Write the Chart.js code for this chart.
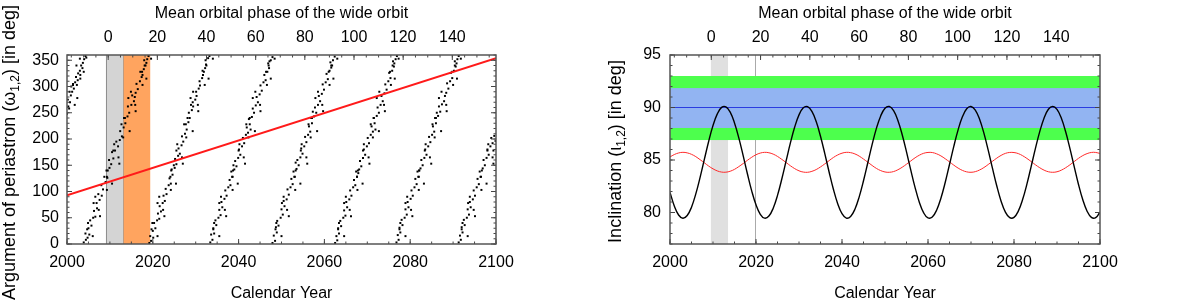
<!DOCTYPE html>
<html>
<head>
<meta charset="utf-8">
<script src="https://cdn.jsdelivr.net/npm/chart.js@4/dist/chart.umd.min.js"></script>
<style>
  html, body { margin: 0; padding: 0; background: #fff; }
  #wrap { position: relative; width: 1200px; height: 303px; }
  canvas { position: absolute; top: 0; }
  #omega { left: 0; }
  #incl { left: 600px; }
</style>
</head>
<body>
<div id="wrap">
  <canvas id="omega" width="600" height="303"></canvas>
  <canvas id="incl" width="600" height="303"></canvas>
</div>
<script>
// top axis: mean orbital phase of the wide orbit vs calendar year
const PHASE_ZERO_YEAR = 2009.6;
const YEARS_PER_PHASE = 0.573;
const toPhase = y => (y - PHASE_ZERO_YEAR) / YEARS_PER_PHASE;

const yearTicks = [2000, 2020, 2040, 2060, 2080, 2100];
const phaseTicks = [0, 20, 40, 60, 80, 100, 120, 140];
const omegaTicks = [0, 50, 100, 150, 200, 250, 300, 350];
const inclTicks = [80, 85, 90, 95];

// left panel: argument of periastron, scattered points [year, deg]
const omegaBand0 = [[2000.0,248],[2000.5,258],[2000.3,262],[2000.7,270],[2000.2,275],[2000.9,283],[2001.2,290],[2001.6,296],[2001.0,300],
  [2002.3,303],[2001.4,305],[2001.9,308],[2002.5,312],[2002.1,318],[2003.1,322],[2002.6,325],[2003.0,330],[2003.6,335],[2003.3,340],
  [2003.7,345],[2004.0,352],[2004.5,355],[2004.3,358]];
const omegaBand1 = [[2003.9,3],[2004.4,8],[2004.8,12],[2005.2,18],[2004.3,20],[2005.0,30],[2005.7,35],[2005.4,45],[2006.1,50],[2006.6,52],
  [2006.3,63],[2007.0,68],[2006.9,78],[2007.6,84],[2008.1,92],[2007.3,95],[2008.4,104],[2008.0,112],[2009.0,118],[2009.4,126],[2008.7,128],
  [2009.2,140],[2009.9,145],[2010.3,152],[2009.8,160],[2010.8,163],[2010.5,175],[2011.2,178],[2011.9,186],[2011.5,195],[2012.3,198],
  [2012.8,205],[2012.4,215],[2013.2,222],[2013.6,230],[2013.3,240],[2014.1,243],[2014.5,250],[2014.2,262],[2015.0,265],[2015.6,272],
  [2015.8,280],[2015.2,283],[2016.0,288],[2016.5,295],[2016.2,305],[2017.0,310],[2017.4,318],[2017.6,322],[2017.1,328],[2017.9,333],
  [2018.3,340],[2018.5,345],[2018.0,350],[2018.7,352],[2019.0,358]];
const omegaBand2 = [[2019.2,2],[2019.6,6],[2020.1,12],[2019.4,15],[2020.0,25],[2020.6,30],[2020.3,40],[2021.0,45],[2021.5,48],[2021.2,58],
  [2021.9,62],[2021.6,72],[2022.3,78],[2022.8,82],[2022.5,92],[2023.2,95],[2023.0,105],[2023.7,112],[2024.2,115],[2023.9,125],[2024.6,132],
  [2024.4,142],[2025.1,145],[2024.9,150],[2025.5,152],[2025.2,162],[2025.9,168],[2026.3,172],[2026.0,182],[2026.7,188],[2027.1,195],
  [2026.8,205],[2027.5,210],[2027.9,218],[2027.7,228],[2028.3,232],[2028.6,240],[2028.4,250],[2029.1,255],[2029.4,262],[2028.9,265],
  [2029.3,270],[2029.9,275],[2030.2,282],[2030.1,290],[2030.7,296],[2031.0,302],[2030.9,310],[2031.5,316],[2031.7,322],[2031.6,330],
  [2032.2,335],[2032.4,342],[2032.3,350],[2032.9,354],[2033.2,358]];
const omegaBand3 = [[2033.4,3],[2033.9,8],[2033.6,18],[2034.3,20],[2034.1,30],[2034.8,36],[2034.6,45],[2035.3,50],[2035.8,55],[2035.5,65],
  [2036.2,70],[2036.0,80],[2036.7,86],[2037.2,92],[2036.9,102],[2037.6,108],[2038.1,112],[2037.9,122],[2038.5,128],[2038.3,138],
  [2039.0,142],[2039.5,148],[2038.8,150],[2039.2,158],[2039.9,164],[2040.4,170],[2040.1,180],[2040.8,186],[2041.3,192],[2041.0,202],
  [2041.7,208],[2042.2,212],[2042.8,218],[2041.9,222],[2042.6,228],[2042.4,238],[2043.1,242],[2043.6,250],[2043.3,258],[2044.0,264],
  [2044.5,270],[2044.2,280],[2044.9,285],[2045.4,292],[2045.1,302],[2045.8,308],[2046.3,312],[2046.0,322],[2046.7,328],[2047.1,335],
  [2046.9,344],[2047.2,348],[2047.5,350],[2047.9,356]];
const omegaBand4 = [[2047.9,2],[2048.5,6],[2048.2,16],[2048.9,22],[2048.7,32],[2049.3,35],[2049.0,44],[2049.8,50],[2050.3,56],[2050.0,66],
  [2050.7,72],[2050.5,82],[2051.2,85],[2051.7,94],[2051.4,104],[2052.1,108],[2052.6,114],[2052.3,124],[2053.0,128],[2052.8,138],
  [2053.5,143],[2054.0,150],[2053.3,155],[2053.7,160],[2054.4,165],[2054.9,172],[2054.6,182],[2055.3,186],[2055.8,194],[2055.5,204],
  [2056.2,208],[2056.7,214],[2056.4,224],[2057.1,230],[2056.9,240],[2057.6,243],[2058.1,250],[2057.3,252],[2057.8,260],[2058.5,265],
  [2059.0,272],[2058.7,282],[2059.4,286],[2059.9,294],[2059.6,304],[2060.3,308],[2060.8,314],[2060.5,324],[2061.2,330],[2061.6,336],
  [2061.8,340],[2061.4,346],[2062.0,350],[2062.4,357]];
const omegaBand5 = [[2062.5,2],[2063.0,7],[2062.8,15],[2063.4,20],[2063.2,30],[2063.9,34],[2063.7,44],[2064.4,50],[2064.9,54],[2064.6,64],
  [2065.3,70],[2065.1,80],[2065.8,85],[2066.3,92],[2066.0,102],[2066.7,108],[2067.2,112],[2066.9,122],[2067.6,128],[2067.9,135],
  [2067.4,138],[2068.1,142],[2068.6,148],[2068.3,158],[2069.0,164],[2069.5,170],[2069.2,180],[2069.9,186],[2070.4,192],[2070.1,202],
  [2070.8,208],[2071.3,214],[2071.9,218],[2071.0,224],[2071.7,230],[2071.5,240],[2072.2,244],[2072.7,250],[2072.4,260],[2073.1,265],
  [2073.6,272],[2073.3,282],[2074.0,287],[2074.5,294],[2074.2,304],[2074.9,310],[2075.4,316],[2075.1,326],[2075.8,330],[2076.2,338],
  [2076.3,344],[2076.0,348],[2076.6,352],[2076.9,358]];
const omegaBand6 = [[2076.8,3],[2077.3,8],[2077.1,17],[2077.7,22],[2077.5,31],[2078.2,36],[2078.0,46],[2078.7,50],[2079.2,56],[2078.9,66],
  [2079.6,70],[2079.4,80],[2080.1,86],[2080.6,92],[2080.3,102],[2081.0,108],[2081.5,114],[2081.2,124],[2081.9,128],[2081.7,138],
  [2082.1,140],[2082.4,144],[2082.9,150],[2082.6,160],[2083.3,164],[2083.8,170],[2083.5,180],[2084.2,186],[2084.7,194],[2084.4,204],
  [2085.1,208],[2085.6,214],[2085.3,224],[2086.0,230],[2085.8,240],[2086.5,244],[2086.2,250],[2087.0,252],[2086.7,262],[2087.4,266],
  [2087.9,272],[2088.1,282],[2088.4,288],[2088.9,296],[2088.6,306],[2089.3,310],[2089.8,316],[2089.5,326],[2090.2,330],[2090.6,338],
  [2090.8,344],[2090.4,348],[2091.0,352],[2091.3,358]];
const omegaBand7 = [[2091.3,3],[2091.8,8],[2091.6,16],[2092.2,22],[2092.0,32],[2092.7,36],[2092.5,46],[2093.2,50],[2093.7,56],[2093.4,66],
  [2094.1,70],[2093.9,80],[2094.6,85],[2095.1,92],[2094.8,102],[2095.5,108],[2096.0,114],[2095.7,124],[2096.4,128],[2096.2,138],
  [2096.9,144],[2097.4,150],[2097.1,160],[2097.8,164],[2098.3,170],[2099.4,178],[2098.0,180],[2098.7,186],[2099.2,192],[2099.9,196],
  [2098.9,202],[2099.6,206]];
// looser points on either side of each band
const omegaSpread = [
  [2001.8,265],[2000.6,290],[2003.1,315],[2002.2,340],[2002.4,278],[2001.4,303],[2003.9,328],[2003.0,353],
  [2006.0,15],[2004.9,40],[2007.4,65],[2006.6,90],[2010.5,115],[2009.5,140],[2012.0,165],[2011.0,190],[2014.6,215],[2013.5,240],
  [2015.9,265],[2014.9,290],[2018.5,315],[2018.1,340],[2004.7,28],[2007.7,53],[2006.2,78],[2009.3,103],[2009.3,128],[2012.2,153],
  [2010.8,178],[2013.1,203],[2012.7,228],[2016.0,253],[2014.3,278],[2017.6,303],[2017.5,328],[2019.6,353],
  [2021.1,15],[2019.9,40],[2022.4,65],[2021.5,90],[2025.4,115],[2024.3,140],[2026.8,165],[2025.7,190],[2029.3,215],[2028.1,240],
  [2030.5,265],[2029.4,290],[2033.0,315],[2032.5,340],[2019.7,28],[2022.7,53],[2021.1,78],[2024.2,103],[2024.1,128],[2027.0,153],
  [2025.5,178],[2027.8,203],[2027.3,228],[2030.6,253],[2028.8,278],[2032.1,303],[2031.9,328],[2034.0,353],
  [2035.5,15],[2034.3,40],[2036.8,65],[2035.9,90],[2039.8,115],[2038.7,140],[2041.2,165],[2040.2,190],[2043.8,215],[2042.6,240],
  [2045.0,265],[2043.9,290],[2047.5,315],[2047.0,340],[2034.1,28],[2037.1,53],[2035.5,78],[2038.6,103],[2038.6,128],[2041.5,153],
  [2040.0,178],[2042.3,203],[2041.8,228],[2045.1,253],[2043.3,278],[2046.6,303],[2046.4,328],[2048.4,353],
  [2050.0,15],[2048.8,40],[2051.3,65],[2050.5,90],[2054.4,115],[2053.3,140],[2055.8,165],[2054.7,190],[2058.3,215],[2057.1,240],
  [2059.5,265],[2058.5,290],[2062.1,315],[2061.6,340],[2048.6,28],[2051.7,53],[2050.1,78],[2053.2,103],[2053.1,128],[2056.0,153],
  [2054.5,178],[2056.8,203],[2056.3,228],[2059.7,253],[2057.9,278],[2061.2,303],[2061.0,328],[2063.0,353],
  [2064.6,15],[2063.4,40],[2065.9,65],[2065.0,90],[2068.9,115],[2067.8,140],[2070.3,165],[2069.2,190],[2072.7,215],[2071.5,240],
  [2073.9,265],[2072.8,290],[2076.4,315],[2075.9,340],[2063.2,28],[2066.2,53],[2064.6,78],[2067.7,103],[2067.6,128],[2070.5,153],
  [2069.0,178],[2071.3,203],[2070.8,228],[2074.1,253],[2072.2,278],[2075.5,303],[2075.3,328],[2077.3,353],
  [2078.9,15],[2077.7,40],[2080.2,65],[2079.3,90],[2083.2,115],[2082.1,140],[2084.6,165],[2083.6,190],[2087.2,215],[2086.0,240],
  [2088.4,265],[2087.3,290],[2090.9,315],[2090.4,340],[2077.5,28],[2080.5,53],[2078.9,78],[2082.0,103],[2082.0,128],[2084.9,153],
  [2083.4,178],[2085.7,203],[2085.2,228],[2088.5,253],[2086.7,278],[2090.0,303],[2089.8,328],[2091.8,353],
  [2093.4,15],[2092.2,40],[2094.8,65],[2093.9,90],[2097.8,115],[2096.7,140],[2099.2,165],[2098.2,190],
  [2092.0,28],[2095.1,53],[2093.5,78],[2096.6,103],[2096.5,128],[2099.4,153],[2098.0,178]
];

// red straight line (apsidal trend)
const apsidalYears = [2000, 2100];
const apsidalValues = [93, 354];

// shaded year windows, left panel
const grayWindowLeft = [2009.2, 2013.2];
const orangeWindow = [2013.2, 2019.4];

// right panel: inclination, one sample per year 2000..2100
const sampleYears = Array.from({ length: 101 }, (_, i) => 2000 + i);
const inclBlack = [81.92,80.62,79.76,79.45,79.71,80.51,81.77,83.35,85.08,86.79,88.28,89.39,90.01,90.06,89.56,88.53,87.11,85.44,83.69,82.06,
  80.73,79.83,79.46,79.66,80.41,81.63,83.19,84.91,86.63,88.14,89.30,89.97,90.08,89.63,88.66,87.26,85.61,83.86,82.21,80.84,
  79.89,79.47,79.62,80.31,81.49,83.02,84.74,86.46,88.01,89.20,89.93,90.10,89.70,88.77,87.41,85.78,84.03,82.37,80.96,79.96,
  79.48,79.57,80.22,81.36,82.86,84.57,86.30,87.87,89.11,89.88,90.10,89.76,88.88,87.56,85.94,84.20,82.52,81.08,80.04,79.51,
  79.54,80.13,81.23,82.70,84.40,86.13,87.73,89.01,89.83,90.11,89.82,88.99,87.71,86.11,84.37,82.67,81.21,80.12,79.53,79.51,80.05];
const inclRed = [85.29,85.52,85.67,85.73,85.68,85.54,85.32,85.03,84.73,84.42,84.16,83.96,83.85,83.84,83.93,84.11,84.37,84.66,84.97,85.26,
  85.50,85.66,85.73,85.69,85.56,85.34,85.06,84.76,84.45,84.18,83.97,83.85,83.83,83.92,84.09,84.34,84.63,84.94,85.24,85.48,
  85.65,85.73,85.70,85.58,85.37,85.09,84.79,84.48,84.20,83.99,83.86,83.83,83.90,84.07,84.31,84.60,84.91,85.21,85.46,85.64,
  85.72,85.71,85.59,85.39,85.12,84.82,84.51,84.23,84.01,83.87,83.83,83.89,84.05,84.28,84.57,84.88,85.18,85.44,85.63,85.72,
  85.71,85.61,85.41,85.15,84.85,84.54,84.26,84.03,83.88,83.83,83.88,84.03,84.26,84.54,84.85,85.16,85.42,85.61,85.72,85.72,85.62];
const inclLevel = 90;
const greenRange = [86.9, 93.0];
const blueRange = [88.05, 91.85];
const grayWindowRight = [2009.5, 2013.5];
const markerYear = 2019.8;

const FAMILY = "'Liberation Sans', Arial, Helvetica, sans-serif";
Chart.defaults.font.family = FAMILY;
Chart.defaults.font.size = 16;
Chart.defaults.color = '#000';

const shading = {
  id: 'shading',
  beforeDatasetsDraw(chart, args, opts) {
    const { ctx, chartArea: a, scales } = chart;
    const xs = scales.x, ys = scales.y;
    ctx.save();
    ctx.beginPath();
    ctx.rect(a.left, a.top, a.width, a.height);
    ctx.clip();
    (opts.vertical || []).forEach(b => {
      const x0 = xs.getPixelForValue(b.range[0]);
      const x1 = xs.getPixelForValue(b.range[1]);
      ctx.fillStyle = b.color;
      ctx.fillRect(x0, a.top, x1 - x0, a.height);
      if (b.edge) {
        ctx.strokeStyle = b.edge;
        ctx.lineWidth = 1;
        ctx.beginPath();
        ctx.moveTo(x0, a.top); ctx.lineTo(x0, a.bottom);
        ctx.moveTo(x1, a.top); ctx.lineTo(x1, a.bottom);
        ctx.stroke();
      }
    });
    (opts.lines || []).forEach(l => {
      const x = Math.round(xs.getPixelForValue(l.value)) + 0.5;
      ctx.strokeStyle = l.color;
      ctx.lineWidth = 1;
      ctx.beginPath();
      ctx.moveTo(x, a.top); ctx.lineTo(x, a.bottom);
      ctx.stroke();
    });
    (opts.horizontal || []).forEach(b => {
      const y0 = ys.getPixelForValue(b.range[1]);
      const y1 = ys.getPixelForValue(b.range[0]);
      ctx.fillStyle = b.color;
      ctx.fillRect(a.left, y0, a.width, y1 - y0);
    });
    ctx.restore();
  }
};

// gnuplot-like frame with inward ticks
const frame = {
  id: 'frame',
  afterDatasetsDraw(chart, args, opts) {
    const { ctx, chartArea: a, scales } = chart;
    ctx.save();
    ctx.strokeStyle = '#444';
    ctx.lineWidth = 1;
    const mark = (scale, v, len, side) => {
      const p = scale.getPixelForValue(v);
      ctx.beginPath();
      if (side === 'bottom') { ctx.moveTo(p, a.bottom); ctx.lineTo(p, a.bottom - len); }
      if (side === 'top') { ctx.moveTo(p, a.top); ctx.lineTo(p, a.top + len); }
      if (side === 'left') { ctx.moveTo(a.left, p); ctx.lineTo(a.left + len, p); }
      if (side === 'right') { ctx.moveTo(a.right, p); ctx.lineTo(a.right - len, p); }
      ctx.stroke();
    };
    const axis = (scale, step, sides) => {
      for (let v = Math.ceil(scale.min / step) * step; v <= scale.max + 1e-9; v += step) {
        sides.forEach(s => mark(scale, v, 2.5, s));
      }
      scale.ticks.forEach(t => sides.forEach(s => mark(scale, t.value, 5, s)));
    };
    axis(scales.x, opts.minor.x, ['bottom']);
    axis(scales.x2, opts.minor.x2, ['top']);
    axis(scales.y, opts.minor.y, ['left', 'right']);
    ctx.lineWidth = 1.5;
    ctx.strokeStyle = '#555';
    ctx.strokeRect(a.left, a.top, a.width, a.height);
    ctx.restore();
  }
};

// rotated y title with a real subscript
const yTitle = {
  id: 'yTitle',
  afterDraw(chart, args, opts) {
    const { ctx, chartArea: a } = chart;
    const big = `${opts.size}px ${FAMILY}`;
    const small = `${opts.subSize}px ${FAMILY}`;
    ctx.save();
    ctx.translate(opts.x, (a.top + a.bottom) / 2 + (opts.shift || 0));
    ctx.rotate(-Math.PI / 2);
    ctx.fillStyle = '#000';
    ctx.textBaseline = 'alphabetic';
    ctx.textAlign = 'left';
    let total = 0;
    opts.parts.forEach(p => { ctx.font = p.sub ? small : big; total += ctx.measureText(p.text).width; });
    let pos = -total / 2;
    opts.parts.forEach(p => {
      ctx.font = p.sub ? small : big;
      ctx.fillText(p.text, pos, p.sub ? opts.subDrop : 0);
      pos += ctx.measureText(p.text).width;
    });
    ctx.restore();
  }
};

function makeScales(cfg) {
  const fixed = list => s => { s.ticks = list.map(v => ({ value: v })); };
  const plain = v => String(v);
  const noGrid = { display: false, drawTicks: false };
  return {
    x: {
      type: 'linear', position: 'bottom', min: 2000, max: 2100,
      afterBuildTicks: fixed(yearTicks),
      afterFit: s => { s.height = 59; },
      grid: noGrid, border: { display: false },
      ticks: { padding: 9, maxRotation: 0, callback: plain },
      title: { display: true, text: 'Calendar Year', padding: { top: 4, bottom: 0 } }
    },
    x2: {
      type: 'linear', axis: 'x', position: 'top', min: toPhase(2000), max: toPhase(2100),
      afterBuildTicks: fixed(phaseTicks),
      afterFit: s => { s.height = 55; },
      grid: noGrid, border: { display: false },
      ticks: { padding: 8, maxRotation: 0, callback: plain },
      title: { display: true, text: 'Mean orbital phase of the wide orbit', padding: { top: 4, bottom: 0 } }
    },
    y: {
      type: 'linear', position: 'left', min: cfg.yMin, max: cfg.yMax,
      afterBuildTicks: fixed(cfg.yTicks),
      afterFit: s => { s.width = cfg.yWidth; },
      grid: noGrid, border: { display: false },
      ticks: { padding: cfg.yPad, callback: plain },
      title: { display: false }
    }
  };
}

const pts = (xs, ys) => xs.map((x, i) => ({ x: x, y: ys[i] }));
const pairs = list => list.map(p => ({ x: p[0], y: p[1] }));

const omegaPoints = [omegaBand0, omegaBand1, omegaBand2, omegaBand3, omegaBand4, omegaBand5, omegaBand6, omegaBand7, omegaSpread]
  .flatMap(pairs);

new Chart(document.getElementById('omega'), {
  type: 'scatter',
  data: {
    datasets: [
      {
        data: pts(apsidalYears, apsidalValues), showLine: true, borderColor: '#ff1a1a', borderWidth: 2,
        pointRadius: 0, clip: 0, order: 0
      },
      {
        data: omegaPoints, pointStyle: 'rect', pointRadius: 1.4, backgroundColor: '#000',
        borderWidth: 0, clip: 0, order: 1
      }
    ]
  },
  options: {
    responsive: false, animation: false, devicePixelRatio: 1,
    layout: { padding: { left: 0, right: 104, top: 0, bottom: 0 } },
    plugins: {
      legend: { display: false }, tooltip: { enabled: false },
      shading: {
        vertical: [
          { range: grayWindowLeft, color: '#d4d4d4', edge: '#8c8c8c' },
          { range: orangeWindow, color: '#ffa45f' }
        ]
      },
      frame: { minor: { x: 5, x2: 5, y: 10 } },
      yTitle: {
        x: 15, size: 18, subSize: 12, subDrop: 4, shift: 3,
        parts: [{ text: 'Argument of periastron (\u03c9' }, { text: '1,2', sub: true }, { text: ') [in deg]' }]
      }
    },
    scales: makeScales({ yMin: 0, yMax: 360, yTicks: omegaTicks, yWidth: 67, yPad: 8 })
  },
  plugins: [shading, frame, yTitle]
});

new Chart(document.getElementById('incl'), {
  type: 'scatter',
  data: {
    datasets: [
      {
        data: pts(sampleYears, inclBlack), showLine: true, borderColor: '#000', borderWidth: 1.4,
        pointRadius: 0, tension: 0.4, clip: 0, order: 0
      },
      {
        data: pts(sampleYears, inclRed), showLine: true, borderColor: '#ff2a2a', borderWidth: 1,
        pointRadius: 0, tension: 0.4, clip: 0, order: 1
      },
      {
        data: pts([2000, 2100], [inclLevel, inclLevel]), showLine: true, borderColor: '#2a3ce0', borderWidth: 1,
        pointRadius: 0, clip: 0, order: 2
      }
    ]
  },
  options: {
    responsive: false, animation: false, devicePixelRatio: 1,
    layout: { padding: { left: 0, right: 100, top: 0, bottom: 0 } },
    plugins: {
      legend: { display: false }, tooltip: { enabled: false },
      shading: {
        vertical: [{ range: grayWindowRight, color: '#e0e0e0' }],
        lines: [{ value: markerYear, color: '#aaaaaa' }],
        horizontal: [
          { range: greenRange, color: '#4dff4d' },
          { range: blueRange, color: '#92b4f2' }
        ]
      },
      frame: { minor: { x: 5, x2: 5, y: 1 } },
      yTitle: {
        x: 21, size: 18, subSize: 12, subDrop: 4, shift: 2,
        parts: [{ text: 'Inclination (\u03b9' }, { text: '1,2', sub: true }, { text: ') [in deg]' }]
      }
    },
    scales: makeScales({ yMin: 77, yMax: 95, yTicks: inclTicks, yWidth: 70, yPad: 9 })
  },
  plugins: [shading, frame, yTitle]
});
</script>
</body>
</html>
